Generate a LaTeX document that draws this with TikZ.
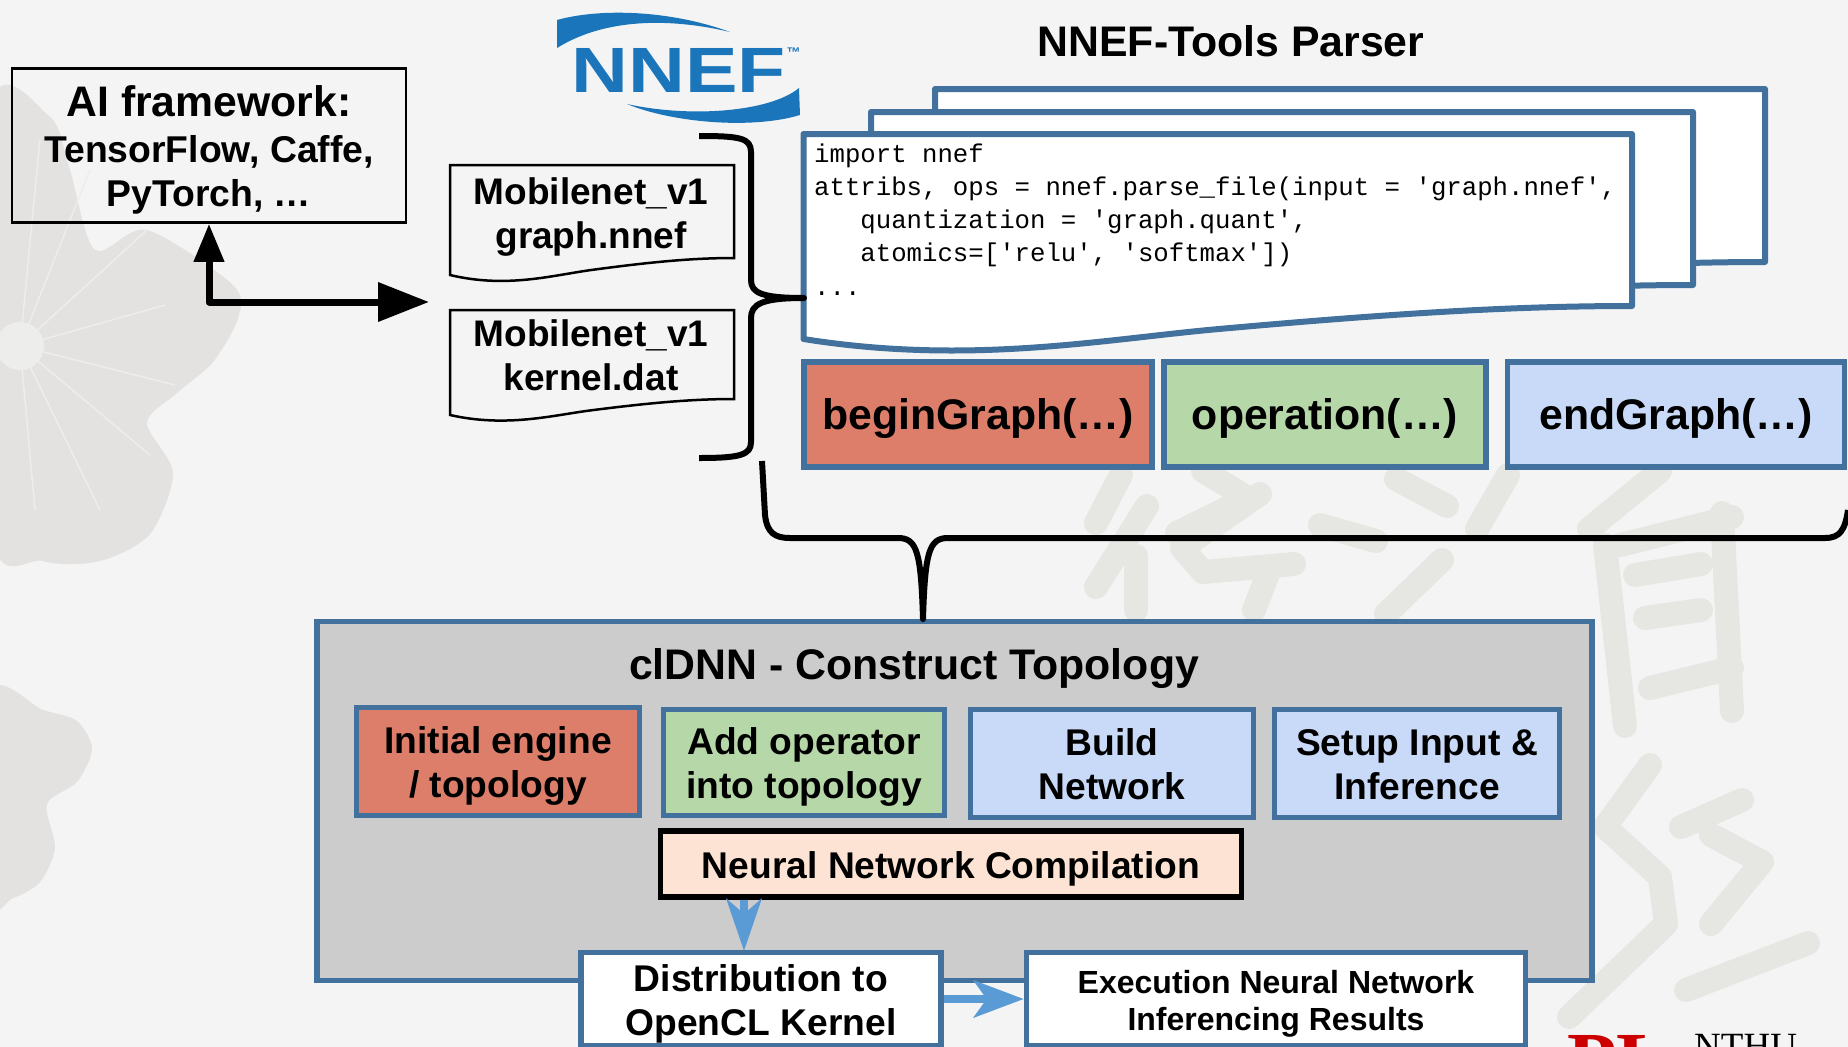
\documentclass[tikz,border=0pt]{standalone}
\usepackage{fontspec}
\setmainfont{Liberation Sans}
\newfontfamily\codefont{Liberation Mono}
\newfontfamily\labfont{Liberation Serif}
\usetikzlibrary{arrows.meta}
\definecolor{edgeblue}{HTML}{41719C}
\definecolor{arrowblue}{HTML}{5B9BD5}
\definecolor{logoblue}{HTML}{1B75BB}
\definecolor{boxred}{HTML}{DD7E6B}
\definecolor{boxgreen}{HTML}{B6D7A8}
\definecolor{boxblue}{HTML}{C9DAF8}
\definecolor{boxpeach}{HTML}{FDE3D3}
\definecolor{pagegray}{HTML}{F4F4F4}
\definecolor{flowergray}{HTML}{E3E2E1}
\definecolor{inkgray}{HTML}{E6E6E2}
% foglio con il bordo inferiore ondulato: stile, x1, y1, x2, y destra, profondita'
\newcommand{\wavedoc}[6]{%
	\pgfmathsetmacro{\docw}{#4-#2}
	\draw[#1] (#2,#5+#6) -- (#2,#3) -- (#4,#3) -- (#4,#5)
		.. controls (#2+.85*\docw,#5) and (#2+.7*\docw,#5+.25*#6) .. (#2+.5*\docw,#5+.7*#6)
		.. controls (#2+.36*\docw,#5+1.015*#6) and (#2+.2*\docw,#5+1.8*#6) .. (#2,#5+#6) -- cycle;
}
\begin{document}
\begin{tikzpicture}[
		x=1pt, y=-1pt,
		% Stili per i riquadri
		box style/.style={draw=edgeblue, line width=5.5, inner sep=0pt, align=center, text height=81pt, text depth=10pt, font=\fontsize{37.2}{44}\selectfont\bfseries},
		one line/.style={text height=39pt, text depth=10pt},
		big label/.style={font=\fontsize{42.8}{50}\selectfont\bfseries},
		doc style/.style={draw=black, line width=2.5},
		stack style/.style={draw=edgeblue, fill=white, line width=6, line join=round},
		file label/.style={align=center, inner sep=0pt, text height=80pt, text depth=10pt, font=\fontsize{37}{44}\selectfont\bfseries},
		% Stili per le linee
		brace style/.style={draw=black, line width=6, line join=round},
		blue arrow/.style={draw=arrowblue, line width=8, -{Stealth[length=50pt, width=37pt, inset=13pt]}},
		% Stili per lo sfondo
		petal style/.style={fill=flowergray},
		ink style/.style={draw=inkgray, line width=24, line cap=round, line join=round}
	]

	\useasboundingbox (0,0) rectangle (1848,1047);
	\clip (0,0) rectangle (1848,1047);

	% =================================
	% SFONDO
	% =================================
	\fill[pagegray] (0,0) rectangle (1848,1047);

	% Fiore in alto a sinistra
	\fill[petal style] plot[smooth cycle] coordinates {(-10,110) (50,117) (70,170) (95,250) (147,230) (233,285) (238,318) (213,362) (177,393) (147,423) (173,473) (150,534) (100,561) (43,561) (-10,528)};
	% Fiore in basso a sinistra
	\fill[petal style] plot[smooth cycle] coordinates {(-10,694) (43,710) (77,721) (92,749) (77,782) (47,804) (55,848) (40,882) (13,898) (-10,898)};
	\foreach \tipx/\tipy in {147/230, 165/305, 175/385, 150/455, 100/510, 35/510, 40/140, 90/170}
		\draw[flowergray!40!pagegray, line width=1.5] (20,346) -- (\tipx,\tipy);
	\fill[flowergray!40!pagegray] (20,346) circle (24);

	% Calligrafia a destra
	\draw[ink style] (1121,475) -- (1096,523);
	\draw[ink style] (1203,471) -- (1248,498) -- (1177,533);
	\draw[ink style] (1147,506) -- (1096,587);
	\draw[ink style] (1136,556) -- (1136,610);
	\draw[ink style] (1260,494) -- (1182,548) -- (1203,572) -- (1294,564);
	\draw[ink style] (1269,571) -- (1254,610);
	\draw[ink style] (1396,479) -- (1447,506);
	\draw[ink style] (1508,475) -- (1477,529);
	\draw[ink style] (1320,525) -- (1376,541);
	\draw[ink style] (1442,560) -- (1386,614);
	\draw[ink style] (1660,471) -- (1589,529);
	\draw[ink style] (1605,545) -- (1625,726);
	\draw[ink style] (1722,513) -- (1732,711);
	\draw[ink style] (1620,545) -- (1732,517);
	\draw[ink style] (1635,575) -- (1701,564);
	\draw[ink style] (1645,618) -- (1701,610);
	\draw[ink style] (1650,688) -- (1732,668);
	\draw[ink style] (1650,765) -- (1605,827) -- (1660,877) -- (1666,924) -- (1569,1017);
	\draw[ink style] (1742,800) -- (1681,827);
	\draw[ink style] (1711,835) -- (1762,862) -- (1711,924);
	\draw[ink style] (1808,943) -- (1686,990);

	% =================================
	% LOGO NNEF E LOGO NTHU
	% =================================
	\fill[logoblue] (557,20) .. controls (600,8) and (670,10) .. (730,32) .. controls (680,20) and (610,15) .. (557,48) -- cycle;
	\fill[logoblue] (627,104) .. controls (670,122) and (750,130) .. (800,115) -- (799,88) .. controls (770,112) and (690,118) .. (627,104) -- cycle;
	\node[logoblue, inner sep=0pt, xscale=1.23, transform shape, font=\fontsize{64}{64}\selectfont\bfseries] (nneflogo) at (678.5,70) {NNEF};
	\node[logoblue, inner sep=0pt, anchor=base, font=\fontsize{14}{14}\selectfont\bfseries] (nneftm) at (793.5,57) {™};
	\node[inner sep=0pt, anchor=base west, text=red!80!black, font=\fontsize{81}{81}\selectfont\labfont\bfseries] (lablogo) at (1567,1088) {PL};
	\node[inner sep=0pt, anchor=base west, font=\fontsize{37}{37}\selectfont\labfont] (labname) at (1694,1058.5) {NTHU};

	% =================================
	% FRAMEWORK E FILE
	% =================================
	\node[draw=black, line width=2.5, minimum width=394, minimum height=154, inner sep=0pt, align=center, text height=132pt, text depth=10pt, font=\fontsize{37.3}{44}\selectfont\bfseries] (framework) at (209,145.5) {{\fontsize{42.7}{50}\selectfont AI framework:}\\[2.4pt]TensorFlow, Caffe,\\PyTorch, …};

	\wavedoc{doc style}{450}{165}{734}{258}{17}
	\wavedoc{doc style}{450}{310}{734}{399}{16}
	\node[file label] (graphfile) at (591,213) {Mobilenet\_v1\\graph.nnef};
	\node[file label] (kernelfile) at (591,355.5) {Mobilenet\_v1\\kernel.dat};

	\coordinate (filesin) at (429,302);
	\draw[black, line width=7, line join=round, {Triangle[width=29pt, length=38pt]}-{Triangle[width=38pt, length=51pt]}] (framework.south) |- (filesin);

	% =================================
	% NNEF-TOOLS PARSER
	% =================================
	\node[big label, inner sep=0pt] (parsertitle) at (1231,41) {NNEF-Tools Parser};

	\wavedoc{stack style}{935}{89}{1765}{262}{33}
	\wavedoc{stack style}{871}{112}{1693}{285}{33}
	\wavedoc{stack style}{803.5}{134}{1632}{306}{33}

	\node[anchor=north west, inner sep=0pt, align=left, font=\fontsize{25.7}{33}\selectfont\codefont] (codetext) at (814,143.5) {import nnef\\
attribs, ops = nnef.parse\_file(input = 'graph.nnef',\\
\phantom{xxx}quantization = 'graph.quant',\\
\phantom{xxx}atomics=['relu', 'softmax'])\\[1.5pt]
...};

	\node[box style, one line, big label, fill=boxred, minimum width=348, minimum height=105] (begingraph) at (978,414.5) {beginGraph(…)};
	\node[box style, one line, big label, fill=boxgreen, minimum width=322, minimum height=105] (operation) at (1325,414.5) {operation(…)};
	\node[box style, one line, big label, fill=boxblue, minimum width=337, minimum height=105] (endgraph) at (1676,414.5) {endGraph(…)};

	% =================================
	% PARENTESI GRAFFE
	% =================================
	\coordinate (bracetop) at (699,136);
	\coordinate (bracetip) at (804,298);
	\coordinate (bracebottom) at (699,458);
	\draw[brace style] (bracetop) .. controls (740,136) and (751,138) .. (751,152) -- (751,280)
		.. controls (751,293) and (762,298) .. (bracetip)
		.. controls (762,298) and (751,304) .. (751,318) -- (751,442)
		.. controls (751,455) and (740,458) .. (bracebottom);

	% =================================
	% CLDNN - CONSTRUCT TOPOLOGY
	% =================================
	\node[box style, one line, fill=black!20, minimum width=1275, minimum height=359] (topology) at (954.5,801) {};
	\node[big label, inner sep=0pt] (topologytitle) at (914,668.5) {clDNN - Construct Topology};

	\coordinate (lowerleft) at (762,461);
	\coordinate (lowertip) at (923,619);
	\coordinate (lowerright) at (1848,510);
	\draw[brace style] (lowerleft) -- (765,515) .. controls (767,533) and (775,538) .. (790,538) -- (898,538)
		.. controls (917,538) and (921,552) .. (lowertip)
		.. controls (925,552) and (929,538) .. (948,538) -- (1825,538)
		.. controls (1840,538) and (1845,530) .. (lowerright);

	\node[box style, fill=boxred, minimum width=283, minimum height=108] (initengine) at (498,761.5) {Initial engine\\/ topology};
	\node[box style, fill=boxgreen, minimum width=281, minimum height=106] (addoperator) at (804,762.5) {Add operator\\into topology};
	\node[box style, fill=boxblue, minimum width=283, minimum height=108] (buildnet) at (1112,763.5) {Build\\Network};
	\node[box style, fill=boxblue, minimum width=285, minimum height=108] (setupinput) at (1417,763.5) {Setup Input \&\\Inference};
	\node[box style, one line, draw=black, fill=boxpeach, minimum width=581, minimum height=66, text height=38pt] (compilation) at (951,864) {Neural Network Compilation};

	% =================================
	% DISTRIBUZIONE ED ESECUZIONE
	% =================================
	\node[box style, fill=white, minimum width=360, minimum height=93, text height=83pt] (distribution) at (761,999) {Distribution to\\OpenCL Kernel};
	\node[box style, fill=white, minimum width=499, minimum height=93, text height=72pt, font=\fontsize{32}{37}\selectfont\bfseries] (execution) at (1276,999) {Execution Neural Network\\Inferencing Results};

	\coordinate (kernelin) at (744,951);
	\draw[blue arrow, -{Stealth[length=52pt, width=35pt, inset=15pt]}] (kernelin |- compilation.south) -- (kernelin);
	\draw[blue arrow] (distribution) -- (execution);

\end{tikzpicture}
\end{document}
